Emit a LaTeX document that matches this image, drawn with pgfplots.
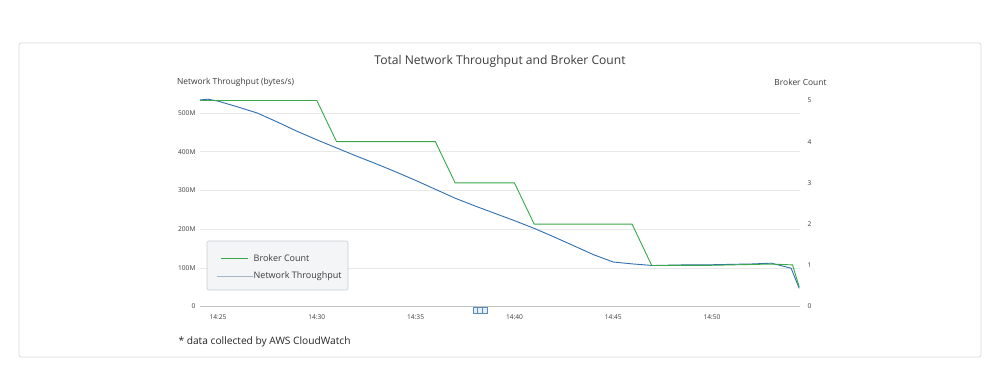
\documentclass[border=0pt]{standalone}
\usepackage{pgfplots}
\pgfplotsset{compat=1.18}
\usepackage{fontspec}
\setmainfont{Open Sans}
\definecolor{bcgreen}{RGB}{58,168,72}
\definecolor{ntblue}{RGB}{47,112,176}
\definecolor{ntlegend}{RGB}{165,182,200}
\definecolor{txt}{RGB}{60,60,60}
\definecolor{gridc}{RGB}{232,232,232}
\definecolor{zeroc}{RGB}{195,195,195}
\definecolor{legfill}{RGB}{243,245,247}
\definecolor{legdraw}{RGB}{200,205,210}
\begin{document}
\begin{tikzpicture}[x=1pt,y=1pt]
\path[fill=white] (0,0) rectangle (1000,376);
\draw[color=gray!30, rounded corners=2pt, line width=0.8pt] (19,19) rectangle (981,333);
\node[font=\fontsize{12.1}{14}\selectfont, text=txt] at (500,315) {Total Network Throughput and Broker Count};
\node[font=\fontsize{8.4}{10}\selectfont, text=txt, anchor=west] at (173.5,294) {Network Throughput (bytes/s)};
\node[font=\fontsize{8.4}{10}\selectfont, text=txt, anchor=east] at (830,294) {Broker Count};
\node[font=\fontsize{10.2}{12}\selectfont, text=black!85, anchor=west] at (175,34) {* data collected by AWS CloudWatch};

% left axis: throughput (M bytes/s)
\begin{axis}[
  scale only axis, width=600pt, height=211.5pt,
  at={(200pt,69.5pt)}, anchor=south west,
  xmin=24.09, xmax=54.45, ymin=0, ymax=546.8,
  axis line style={draw=none}, major tick length=0pt,
  xtick={25,30,35,40,45,50},
  xticklabels={14:25,14:30,14:35,14:40,14:45,14:50},
  ytick={0,100,200,300,400,500},
  yticklabels={0,100M,200M,300M,400M,500M},
  ymajorgrids, grid style={color=gridc, line width=0.6pt},
  ticklabel style={font=\fontsize{6.6}{8}\selectfont, text=txt},
  xticklabel style={yshift=-5pt},
  yticklabel style={xshift=-1pt},
  clip=false,
]
\draw[color=zeroc, line width=0.8pt] (axis cs:24.09,0) -- (axis cs:54.45,0);
\addplot[color=ntblue, line width=0.9pt] coordinates {
(24.09,534) (24.5,536) (25,531) (26,516) (27,500) (28,477) (29,453)
(30,431) (31,410) (32,389) (33,369) (34,348) (35,326) (36,303)
(37,280) (38,260) (39,241) (40,222) (41,202) (42,180) (43,157)
(44,134) (45,115) (46,110) (47,106) (48,107) (49,108) (50,108)
(51,109) (52,110) (53.0,112) (54.0,99) (54.41,47)
};
\draw[color=ntblue!80, fill=ntblue!12, line width=0.5pt] (axis cs:37.9,-1.5) rectangle (axis cs:38.6,-17);
\draw[color=ntblue!80, line width=0.4pt] (axis cs:38.13,-1.5) -- (axis cs:38.13,-17) (axis cs:38.37,-1.5) -- (axis cs:38.37,-17);
\end{axis}

% right axis: broker count
\begin{axis}[
  scale only axis, width=600pt, height=211.5pt,
  at={(200pt,69.5pt)}, anchor=south west,
  xmin=24.09, xmax=54.45, ymin=0, ymax=5.133,
  axis y line*=right, axis x line=none,
  axis line style={draw=none}, major tick length=0pt,
  ytick={0,1,2,3,4,5}, yticklabels={0,1,2,3,4,5},
  ticklabel style={font=\fontsize{6.6}{8}\selectfont, text=txt},
  yticklabel style={xshift=4pt},
]
\addplot[color=bcgreen, line width=0.9pt] coordinates {
(24.09,5) (30.0,5) (31.0,4) (36.0,4) (37.0,3) (40.0,3) (41.0,2)
(45.95,2) (46.95,0.995) (50,1.0) (53.0,1.03) (54.07,1.01) (54.41,0.48)
};
\end{axis}

% legend
\draw[fill=legfill, draw=legdraw, rounded corners=2pt, line width=0.6pt] (207,135) rectangle (348,86);
\draw[color=bcgreen, line width=1.3pt] (221,117.5) -- (248,117.5);
\draw[color=ntlegend, line width=0.7pt] (217,100) -- (253,100);
\node[font=\fontsize{9}{10.5}\selectfont, text=txt, anchor=west, inner sep=0pt] at (253.5,117.5) {Broker Count};
\node[font=\fontsize{9}{10.5}\selectfont, text=txt, anchor=west, inner sep=0pt] at (253.5,100) {Network Throughput};
\end{tikzpicture}
\end{document}
